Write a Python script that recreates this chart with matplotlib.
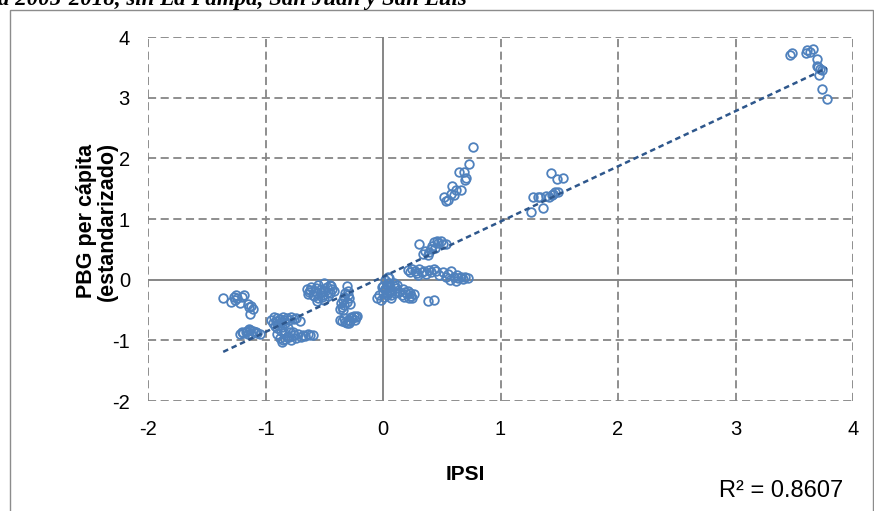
import numpy as np
import matplotlib
matplotlib.use("Agg")
import matplotlib.pyplot as plt
from matplotlib.patches import Rectangle

plt.rcParams['font.family'] = ['Liberation Sans', 'DejaVu Sans']
plt.rcParams['axes.unicode_minus'] = False

# clusters of points (IPSI, PBG per capita standardized)
ax_a = [-1.36, -1.29, -1.27, -1.25, -1.22, -1.18, -1.24, -1.20, -1.14, -1.11, -1.13, -1.12, -1.15, -1.26]
ay_a = [-0.31, -0.36, -0.29, -0.26, -0.39, -0.26, -0.30, -0.28, -0.45, -0.48, -0.56, -0.43, -0.40, -0.33]
ax_b = [-1.22, -1.19, -1.17, -1.15, -1.13, -1.11, -1.09, -1.07, -1.05, -1.16, -1.12, -1.20, -1.08, -1.14]
ay_b = [-0.90, -0.88, -0.86, -0.89, -0.83, -0.85, -0.87, -0.88, -0.90, -0.84, -0.90, -0.87, -0.86, -0.82]
ax_c1 = [-0.95, -0.93, -0.91, -0.90, -0.88, -0.87, -0.85, -0.84, -0.82, -0.80, -0.78, -0.76, -0.74, -0.71]
ay_c1 = [-0.66, -0.62, -0.68, -0.63, -0.65, -0.70, -0.61, -0.67, -0.64, -0.66, -0.62, -0.65, -0.63, -0.68]
ax_c2 = [-0.94, -0.92, -0.90, -0.89, -0.87, -0.86, -0.84, -0.83, -0.81, -0.90, -0.88, -0.85, -0.82, -0.79]
ay_c2 = [-0.72, -0.76, -0.80, -0.74, -0.84, -0.78, -0.88, -0.72, -0.80, -0.90, -0.96, -1.00, -0.95, -0.86]
ax_c3 = [-0.86, -0.83, -0.80, -0.78, -0.76, -0.74, -0.72, -0.70, -0.68, -0.66, -0.64, -0.62, -0.60, -0.77]
ay_c3 = [-1.03, -0.98, -0.94, -1.00, -0.92, -0.96, -0.90, -0.94, -0.91, -0.93, -0.90, -0.92, -0.91, -0.86]
ax_d1 = [-0.65, -0.63, -0.61, -0.60, -0.58, -0.56, -0.55, -0.53, -0.52, -0.50, -0.48, -0.47, -0.45, -0.43]
ay_d1 = [-0.15, -0.20, -0.12, -0.25, -0.18, -0.22, -0.08, -0.15, -0.28, -0.05, -0.12, -0.20, -0.08, -0.15]
ax_d2 = [-0.64, -0.62, -0.59, -0.57, -0.55, -0.53, -0.51, -0.49, -0.47, -0.45, -0.44, -0.42, -0.50, -0.56]
ay_d2 = [-0.24, -0.17, -0.27, -0.14, -0.30, -0.20, -0.25, -0.18, -0.27, -0.22, -0.10, -0.18, -0.33, -0.35]
ax_e = [-0.31, -0.30, -0.32, -0.33, -0.29, -0.34, -0.31, -0.36, -0.33, -0.35, -0.37, -0.30, -0.28, -0.34]
ay_e = [-0.10, -0.18, -0.22, -0.28, -0.30, -0.33, -0.36, -0.38, -0.42, -0.45, -0.48, -0.25, -0.40, -0.50]
ax_f = [-0.37, -0.35, -0.33, -0.32, -0.30, -0.29, -0.28, -0.27, -0.26, -0.25, -0.24, -0.23, -0.22, -0.31]
ay_f = [-0.66, -0.68, -0.63, -0.70, -0.66, -0.71, -0.68, -0.62, -0.64, -0.60, -0.66, -0.62, -0.60, -0.72]
ax_g1 = [-0.05, -0.03, -0.02, 0.00, 0.01, 0.02, 0.03, 0.04, 0.05, -0.01, 0.02, 0.04, 0.06, 0.03]
ay_g1 = [-0.30, -0.25, -0.33, -0.20, -0.28, -0.15, -0.22, -0.10, -0.05, -0.12, 0.00, 0.05, -0.17, -0.26]
ax_g2 = [0.00, 0.02, 0.04, 0.05, 0.06, 0.07, 0.08, 0.09, 0.10, 0.11, 0.12, 0.07, 0.09, 0.05]
ay_g2 = [-0.10, -0.15, -0.05, -0.20, -0.12, -0.25, -0.18, -0.10, -0.22, -0.14, -0.08, -0.30, -0.05, 0.03]
ax_h = [0.14, 0.16, 0.17, 0.18, 0.19, 0.20, 0.21, 0.22, 0.23, 0.24, 0.25, 0.26, 0.38, 0.43]
ay_h = [-0.20, -0.25, -0.15, -0.28, -0.20, -0.24, -0.18, -0.30, -0.22, -0.27, -0.31, -0.24, -0.35, -0.33]
ax_i = [0.21, 0.23, 0.25, 0.27, 0.29, 0.31, 0.33, 0.35, 0.37, 0.39, 0.41, 0.43, 0.45, 0.30]
ay_i = [0.16, 0.13, 0.18, 0.14, 0.11, 0.17, 0.12, 0.15, 0.10, 0.16, 0.13, 0.18, 0.15, 0.08]
ax_j = [0.48, 0.51, 0.54, 0.57, 0.60, 0.62, 0.64, 0.66, 0.68, 0.70, 0.72, 0.58, 0.63, 0.55]
ay_j = [0.08, 0.13, 0.05, 0.00, 0.05, -0.02, 0.02, 0.05, 0.01, 0.04, 0.03, 0.14, 0.08, 0.10]
ax_k = [0.31, 0.34, 0.36, 0.39, 0.41, 0.43, 0.44, 0.46, 0.47, 0.49, 0.51, 0.54, 0.38, 0.42]
ay_k = [0.59, 0.42, 0.47, 0.45, 0.51, 0.62, 0.53, 0.64, 0.60, 0.64, 0.58, 0.59, 0.40, 0.55]
ax_l = [0.54, 0.52, 0.55, 0.58, 0.59, 0.62, 0.65, 0.66, 0.69, 0.70, 0.71, 0.73, 0.77, 0.60]
ay_l = [1.29, 1.36, 1.32, 1.41, 1.55, 1.48, 1.77, 1.47, 1.77, 1.64, 1.68, 1.90, 2.19, 1.40]
ax_m = [1.26, 1.28, 1.32, 1.36, 1.41, 1.44, 1.46, 1.49, 1.43, 1.48, 1.53, 1.39, 1.45, 1.34]
ay_m = [1.12, 1.36, 1.36, 1.18, 1.37, 1.40, 1.44, 1.44, 1.76, 1.66, 1.68, 1.38, 1.42, 1.37]
ax_n = [3.46, 3.48, 3.60, 3.61, 3.66, 3.69, 3.69, 3.72, 3.71, 3.74, 3.78, 3.63, 3.70, 3.74]
ay_n = [3.70, 3.73, 3.73, 3.79, 3.80, 3.63, 3.53, 3.47, 3.37, 3.14, 2.97, 3.76, 3.50, 3.45]

ipsi = np.concatenate([ax_a, ax_b, ax_c1, ax_c2, ax_c3, ax_d1, ax_d2, ax_e, ax_f,
                       ax_g1, ax_g2, ax_h, ax_i, ax_j, ax_k, ax_l, ax_m, ax_n])
pbg = np.concatenate([ay_a, ay_b, ay_c1, ay_c2, ay_c3, ay_d1, ay_d2, ay_e, ay_f,
                      ay_g1, ay_g2, ay_h, ay_i, ay_j, ay_k, ay_l, ay_m, ay_n])

ticks = [-2, -1, 0, 1, 2, 3, 4]
r2_label = "R² = 0.8607"

fig = plt.figure(figsize=(8.74, 5.11), dpi=100)
ax = fig.add_axes([148 / 874, 1 - 401 / 511, 705 / 874, 364 / 511])

grid_col = "#868686"
ax.set_xlim(-2, 4)
ax.set_ylim(-2, 4)
ax.set_xticks(ticks)
ax.set_yticks(ticks)
for t in ticks:
    if t == 0:
        continue
    ax.axvline(t, color=grid_col, lw=1.3, ls=(0, (4.5, 2.5)), zorder=1)
    ax.axhline(t, color=grid_col, lw=1.3, ls=(0, (4.5, 2.5)), zorder=1)
ax.axvline(0, color=grid_col, lw=1.4, zorder=1)
ax.axhline(0, color=grid_col, lw=1.4, zorder=1)
for s in ax.spines.values():
    s.set_visible(False)
ax.tick_params(length=0, labelsize=14.5)
ax.tick_params(axis='x', pad=14)
ax.tick_params(axis='y', pad=13)

ax.plot(ipsi, pbg, 'o', mfc='none', mec='#4f81bd', mew=1.3, ms=6.2, zorder=3)

# linear trendline
coef = np.polyfit(ipsi, pbg, 1)
xs = np.array([ipsi.min(), ipsi.max()])
ax.plot(xs, np.polyval(coef, xs), color='#2e578c', lw=1.8, ls=(0, (2.2, 1.5)), zorder=4)

fig.text(97 / 874, 1 - 221 / 511, "PBG per cápita\n(estandarizado)", rotation=90,
         ha='center', va='center', fontsize=15.5, fontweight='bold',
         multialignment='center', linespacing=0.95)
fig.text(465 / 874, 1 - 474 / 511, "IPSI", ha='center', va='center', fontsize=15, fontweight='bold')
fig.text(781 / 874, 1 - 491 / 511, r2_label, ha='center', va='center', fontsize=17)

# cut-off caption above the chart frame
fig.text(-2 / 874, 1 - 5 / 511, "a 2005-2018, sin La Pampa, San Juan y San Luis",
         ha='left', va='baseline', fontsize=16.5, fontweight='bold', fontstyle='italic',
         family=['Liberation Serif', 'DejaVu Serif'])

fig.patches.append(Rectangle((9.5 / 874, -0.05), (872.5 - 9.5) / 874, 1.05 - 10.5 / 511,
                             transform=fig.transFigure, fill=False, ec='#8c8c8c', lw=1.0))

fig.savefig("out.png", dpi=100)
